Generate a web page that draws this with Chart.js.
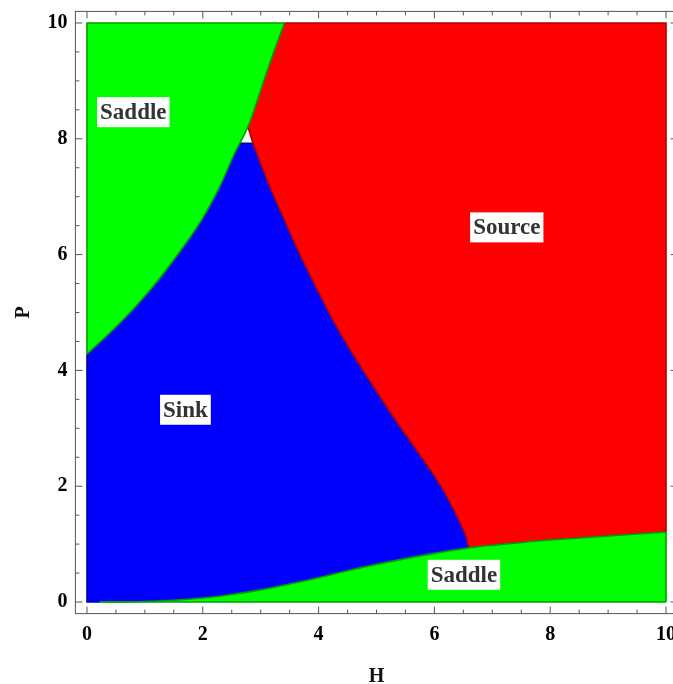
<!DOCTYPE html>
<html>
<head>
<meta charset="utf-8">
<script src="https://cdn.jsdelivr.net/npm/chart.js@4.4.1/dist/chart.umd.min.js"></script>
<style>
  html, body { margin: 0; padding: 0; background: #fff; overflow: hidden; }
  #wrap { width: 700px; height: 684px; }
</style>
</head>
<body>
<div id="wrap"><canvas id="c" width="700" height="684"></canvas></div>
<script>
// Stability regions of the equilibrium in the (H, P) parameter plane.

// Parameter window
const hMin = 0, hMax = 10, pMin = 0, pMax = 10;

// Boundary of the upper saddle region (from H = 0 up to P = 10)
const upperSaddleH = [0, 0.62, 1.14, 1.58, 1.98, 2.29, 2.55, 2.78, 3.02, 3.22, 3.41];
const upperSaddleP = [4.28, 4.87, 5.45, 6.02, 6.60, 7.17, 7.75, 8.21, 8.90, 9.48, 10];

// Boundary between sink and source (from the cusp down to the lower saddle)
const sinkSourceH = [2.78, 2.87, 3.16, 3.41, 3.67, 3.95, 4.25, 4.58, 4.95, 5.33, 5.73, 6.12, 6.42, 6.55, 6.62];
const sinkSourceP = [8.21, 7.92, 7.17, 6.60, 6.02, 5.45, 4.87, 4.30, 3.72, 3.14, 2.57, 1.99, 1.42, 1.13, 0.94];

// Upper edge of the lower saddle region
const lowerSaddleH = [0.22, 1.0, 1.5, 2.0, 2.5, 3.0, 3.5, 4.0, 4.5, 5.0, 5.5, 6.0, 6.62, 7.0, 8.0, 9.0, 10.0];
const lowerSaddleP = [0, 0.01, 0.03, 0.07, 0.13, 0.21, 0.31, 0.42, 0.54, 0.65, 0.75, 0.84, 0.94, 0.98, 1.07, 1.14, 1.21];

// Flat top of the sink region just below the cusp
const sinkTopP = 7.92;

// Region names and where they are written
const regionLabels = ['Saddle', 'Source', 'Sink', 'Saddle'];
const labelH = [0.80, 7.25, 1.70, 6.51];
const labelP = [8.46, 6.47, 3.32, 0.47];

// Labelled ticks on both axes
const tickValues = [0, 2, 4, 6, 8, 10];

const pts = (hs, ps) => hs.map((h, i) => ({ x: h, y: ps[i] }));
const P = (x, y) => ({ x, y });
const GAP = { x: 0, y: null };

const upper = pts(upperSaddleH, upperSaddleP);
const sinkSrc = pts(sinkSourceH, sinkSourceP);
const lower = pts(lowerSaddleH, lowerSaddleP);
const meetH = sinkSourceH[sinkSourceH.length - 1];
const meetIdx = lowerSaddleH.indexOf(meetH);
const lowerEnd = lower[lower.length - 1];

// Lower edge of the source region: sink/source boundary, then the lower saddle edge
const sourceFloor = [...sinkSrc, ...lower.slice(meetIdx + 1)];
// Sink: flat top up to where it meets the lower saddle (source and saddles are drawn over it)
const sinkTop = [P(hMin, sinkTopP), P(sinkSourceH[1], sinkTopP), P(meetH, sinkTopP)];

const region = (data, fill, fillColor, edgeColor, tension) => ({
  data,
  fill,
  backgroundColor: fillColor,
  borderColor: edgeColor,
  borderWidth: 1.6,
  pointRadius: 0,
  tension,
  clip: 2
});

const outline = (data, color) => ({
  data,
  fill: false,
  borderColor: color,
  borderWidth: 1.6,
  pointRadius: 0,
  tension: 0,
  spanGaps: false,
  clip: 2
});

const DARK_GREEN = '#00a000', DARK_RED = '#b00000', DARK_BLUE = '#0000a0';
const SERIF = '"Liberation Serif", "Times New Roman", serif';

const decorations = {
  id: 'decorations',
  afterDatasetsDraw(chart) {
    const { ctx, chartArea: a, scales: { x, y } } = chart;
    ctx.save();
    // frame
    ctx.strokeStyle = '#555';
    ctx.lineWidth = 1;
    ctx.strokeRect(a.left, a.top, a.right - a.left, a.bottom - a.top);
    // inward tick marks on all four sides (major every 2, minor every 0.5)
    ctx.beginPath();
    for (let k = 0; k <= 20; k++) {
      const v = k * 0.5;
      const len = k % 4 === 0 ? 7 : 4;
      const px = x.getPixelForValue(v);
      const py = y.getPixelForValue(v);
      ctx.moveTo(px, a.bottom); ctx.lineTo(px, a.bottom - len);
      ctx.moveTo(px, a.top); ctx.lineTo(px, a.top + len);
      ctx.moveTo(a.left, py); ctx.lineTo(a.left + len, py);
      ctx.moveTo(a.right, py); ctx.lineTo(a.right - len, py);
    }
    ctx.stroke();
    // region names on white boxes
    ctx.font = 'bold 23px ' + SERIF;
    ctx.textAlign = 'center';
    ctx.textBaseline = 'middle';
    regionLabels.forEach((t, i) => {
      const cx = x.getPixelForValue(labelH[i]);
      const cy = y.getPixelForValue(labelP[i]);
      const w = ctx.measureText(t).width + 6;
      ctx.fillStyle = '#fff';
      ctx.fillRect(cx - w / 2, cy - 15, w, 30);
      ctx.fillStyle = '#333';
      ctx.fillText(t, cx, cy + 1);
    });
    ctx.restore();
  }
};

new Chart(document.getElementById('c'), {
  type: 'line',
  data: {
    // listed top layer first
    datasets: [
      outline([P(hMin, upperSaddleP[0]), P(hMin, pMax), upper[upper.length - 1], GAP,
               P(hMax, pMin), lowerEnd, GAP, lower[0], P(hMax, pMin)], DARK_GREEN),
      outline([upper[upper.length - 1], P(hMax, pMax), lowerEnd], DARK_RED),
      outline([P(hMin, upperSaddleP[0]), P(hMin, pMin), lower[0]], DARK_BLUE),
      region(upper, { value: pMax }, '#00ff00', DARK_GREEN, 0.4),
      region(lower, { value: pMin }, '#00ff00', DARK_GREEN, 0.4),
      region(sourceFloor, { value: pMax }, '#ff0000', DARK_RED, 0.4),
      region(sinkTop, { value: pMin }, '#0000ff', DARK_BLUE, 0)
    ]
  },
  options: {
    responsive: false,
    animation: false,
    layout: { padding: { top: 11.4, right: 22.4, left: 0, bottom: 0 } },
    plugins: { legend: { display: false }, tooltip: { enabled: false } },
    scales: {
      x: {
        type: 'linear',
        min: -0.2,
        max: 10.2,
        afterBuildTicks: s => { s.ticks = tickValues.map(v => ({ value: v })); },
        afterFit: s => { s.height = 70.4; s.paddingLeft = 0; s.paddingRight = 0; },
        grid: { display: false, drawTicks: false },
        border: { display: false },
        ticks: { padding: 9, color: '#000', font: { family: SERIF, size: 20, weight: 'bold' } },
        title: {
          display: true, text: 'H', color: '#111',
          font: { family: SERIF, size: 20, weight: 'bold', lineHeight: 1 },
          padding: { top: 0, bottom: -3 }
        }
      },
      y: {
        type: 'linear',
        min: -0.2,
        max: 10.2,
        afterBuildTicks: s => { s.ticks = tickValues.map(v => ({ value: v })); },
        afterFit: s => { s.width = 75.4; s.paddingTop = 0; s.paddingBottom = 0; },
        grid: { display: false, drawTicks: false },
        border: { display: false },
        ticks: { padding: 8, color: '#000', font: { family: SERIF, size: 20, weight: 'bold' } },
        title: {
          display: true, text: 'P', color: '#111',
          font: { family: SERIF, size: 20, weight: 'bold', lineHeight: 1 },
          padding: { top: 14, bottom: 0 }
        }
      }
    }
  },
  plugins: [decorations]
});
</script>
</body>
</html>
